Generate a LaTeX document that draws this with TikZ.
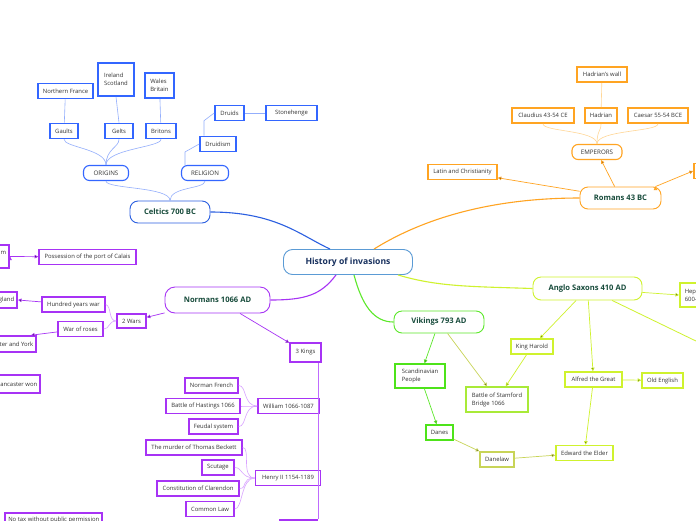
\documentclass[tikz,border=0pt]{standalone}
\usepackage{fontspec}
\setmainfont{Open Sans}
\usetikzlibrary{arrows.meta}

\definecolor{hubline}{HTML}{5B9BD5}
\definecolor{hubtext}{HTML}{17305E}
\definecolor{topictext}{HTML}{174B3B}
\definecolor{leaftext}{HTML}{333333}
\definecolor{celtblue}{HTML}{2B5FE0}
\definecolor{celtbox}{HTML}{3366FF}
\definecolor{celtlite}{HTML}{93AEFC}
\definecolor{romorange}{HTML}{FFA422}
\definecolor{romlite}{HTML}{FFD797}
\definecolor{normpurple}{HTML}{A733F5}
\definecolor{normmid}{HTML}{BF6BFF}
\definecolor{normlite}{HTML}{D9A3FF}
\definecolor{vikgreen}{HTML}{5CE82A}
\definecolor{vikbox}{HTML}{4EE31A}
\definecolor{anglime}{HTML}{CFF22E}
\definecolor{angolive}{HTML}{C8D458}
\definecolor{angbattle}{HTML}{A9EA38}

\tikzset{
	hub/.style={draw=hubline, line width=0.9pt, rounded corners=9pt, fill=white, text=hubtext, font=\bfseries\fontsize{8.6}{10}\selectfont},
	topic/.style={draw=#1, line width=0.9pt, rounded corners=8pt, fill=white, text=topictext, minimum height=22pt, font=\bfseries\fontsize{7.6}{9}\selectfont},
	pill/.style={draw=#1, line width=1.1pt, rounded corners=6pt, fill=white, text=leaftext, minimum height=15pt, inner xsep=2pt, font=\fontsize{6.2}{7}\selectfont},
	leaf/.style={draw=#1, line width=1.6pt, fill=white, text=leaftext, minimum height=15pt, inner xsep=3pt, inner ysep=2pt, align=left, font=\fontsize{5.9}{8}\selectfont},
	branch/.style={draw=#1, line width=1.1pt},
	twig/.style={draw=#1, line width=0.6pt},
	arr/.style={draw=#1, line width=0.7pt, -{Triangle[length=3.5pt,width=3.5pt]}},
}

\begin{document}
\begin{tikzpicture}[x=1pt, y=-1pt]
	\useasboundingbox (0,0) rectangle (696,520);
	\clip (0,0) rectangle (696,520);
	\fill[white] (0,0) rectangle (696,520);

	\node[hub, minimum width=129pt, minimum height=25pt] (hist) at (348,262) {History of invasions};

	\node[topic=celtblue, minimum width=80pt] (celt) at (170,212) {Celtics 700 BC};
	\node[pill=celtbox, minimum width=45pt] (orig) at (106,173) {ORIGINS};
	\node[pill=celtbox, minimum width=47pt] (relig) at (205,173) {RELIGION};
	\node[leaf=celtbox, minimum width=28pt] (gaul) at (64,131) {Gaults};
	\node[leaf=celtbox, minimum width=28pt] (gelt) at (119,131) {Gelts};
	\node[leaf=celtbox, minimum width=30pt] (brit) at (161,131) {Britons};
	\node[leaf=celtbox, minimum width=55pt] (nfr) at (65.5,91) {Northern France};
	\node[leaf=celtbox, minimum width=36pt, minimum height=33pt] (irl) at (116,79.5) {Ireland\\Scotland};
	\node[leaf=celtbox, minimum width=29pt, minimum height=25pt] (wal) at (159.5,85.5) {Wales\\Britain};
	\node[leaf=celtbox, minimum width=29pt] (druids) at (229.5,113) {Druids};
	\node[leaf=celtbox, minimum width=51pt] (stone) at (291.5,113) {Stonehenge};
	\node[leaf=celtbox, minimum width=36pt] (druidism) at (218,144) {Druidism};

	\node[topic=romorange, minimum width=81pt] (rom) at (620.5,198) {Romans 43 BC};
	\node[pill=romorange, minimum width=50pt] (emp) at (597,152) {EMPERORS};
	\node[leaf=romorange, minimum width=62pt] (claud) at (543,115.5) {Claudius 43-54 CE};
	\node[leaf=romorange, minimum width=32pt] (hadr) at (601,115.5) {Hadrian};
	\node[leaf=romorange, minimum width=60pt] (caes) at (658,115.5) {Caesar 55-54 BCE};
	\node[leaf=romorange, minimum width=50pt] (hwall) at (602,74.5) {Hadrian's wall};
	\node[leaf=romorange, minimum width=69pt] (latin) at (462.5,172) {Latin and Christianity};
	\node[leaf=romorange, minimum width=40pt, anchor=west] (redge) at (693,171) {};

	\node[topic=normpurple, minimum width=105pt, minimum height=26pt, rounded corners=10pt] (norm) at (217.5,300) {Normans 1066 AD};
	\node[leaf=normpurple, minimum width=29pt, minimum height=14pt] (wars) at (131.5,321) {2 Wars};
	\node[leaf=normpurple, minimum width=63pt] (hyw) at (73.5,304.5) {Hundred years war};
	\node[leaf=normpurple, minimum width=45pt] (wor) at (80.5,329) {War of roses};
	\node[leaf=normpurple, minimum width=97pt] (calais) at (87.5,257) {Possession of the port of Calais};
	\node[leaf=normpurple, anchor=east, minimum height=23pt] (realm) at (10,256.5) {English realm\\in France};
	\node[leaf=normpurple, anchor=east, minimum height=16pt] (land) at (18,300) {France beat England};
	\node[leaf=normpurple, anchor=east, minimum height=16pt] (york) at (37,344) {Lancaster and York};
	\node[leaf=normpurple, anchor=east, minimum height=18pt] (lanc) at (41,384) {Lancaster won};
	\node[leaf=normpurple, anchor=north east] (notax) at (103,512) {No tax without public permission};
	\node[leaf=normpurple, minimum width=31pt, minimum height=19pt] (kings) at (305.5,352.5) {3 Kings};
	\node[leaf=normpurple, minimum width=61pt] (wil) at (288.5,406) {William 1066-1087};
	\node[leaf=normpurple, minimum width=53pt] (nfrench) at (211.5,385.5) {Norman French};
	\node[leaf=normpurple, minimum width=74pt] (hast) at (203,406) {Battle of Hastings 1066};
	\node[leaf=normpurple, minimum width=49pt] (feud) at (213.5,426.5) {Feudal system};
	\node[leaf=normpurple, minimum width=65pt] (henry) at (288,478) {Henry II 1154-1189};
	\node[leaf=normpurple, minimum width=96pt] (beck) at (194,447.5) {The murder of Thomas Beckett};
	\node[leaf=normpurple, minimum width=32pt] (scut) at (218,467.5) {Scutage};
	\node[leaf=normpurple, minimum width=82pt] (clar) at (198,488.5) {Constitution of Clarendon};
	\node[leaf=normpurple, minimum width=48pt] (comlaw) at (210,509) {Common Law};
	\node[leaf=normpurple, minimum width=37pt, anchor=north] (john) at (298.5,519) {};

	\node[topic=vikgreen, minimum width=90pt] (vik) at (439,322) {Vikings 793 AD};
	\node[leaf=vikbox, minimum width=50pt, minimum height=24pt] (scand) at (420,376) {Scandinavian\\People};
	\node[leaf=angbattle, minimum width=62pt, minimum height=25pt] (stam) at (497,399.5) {Battle of Stamford\\Bridge 1066};
	\node[leaf=vikbox, minimum width=27pt] (danes) at (439.5,432.5) {Danes};
	\node[leaf=angolive, minimum width=34pt] (dlaw) at (497,459.5) {Danelaw};
	\node[topic=anglime, minimum width=109pt, minimum height=23pt] (ang) at (587.5,288.5) {Anglo Saxons 410 AD};
	\node[leaf=anglime, minimum width=42pt] (harold) at (532,346.5) {King Harold};
	\node[leaf=anglime, minimum width=57pt] (alfred) at (593.5,379.5) {Alfred the Great};
	\node[leaf=anglime, minimum width=41pt] (olde) at (662.5,380.5) {Old English};
	\node[leaf=anglime, minimum width=57pt] (edw) at (584.5,453) {Edward the Elder};
	\node[leaf=anglime, anchor=west, minimum height=24pt, inner xsep=5pt] (hept) at (679,295) {Heptarchy\\600-850};
	\coordinate (angout) at (760,372);

	\draw[branch=celtblue] (celt.east) .. controls +(65,0) and +(-30,-14) .. ([xshift=-18pt]hist.north);
	\draw[branch=romorange] (rom.west) .. controls +(-100,0) and +(40,-25) .. ([xshift=26pt]hist.north);
	\draw[branch=normpurple] ([xshift=-12pt]hist.south) .. controls +(-15,20) and +(35,0) .. (norm.east);
	\draw[branch=vikgreen] ([xshift=6pt]hist.south) .. controls +(8,30) and +(-20,0) .. (vik.west);
	\draw[branch=anglime] ([xshift=50pt]hist.south) .. controls +(40,12) and +(-60,-2) .. (ang.west);

	\draw[twig=celtlite] (celt.north) .. controls +(0,-14) and +(0,8) .. (orig.south);
	\draw[twig=celtlite] (celt.north) .. controls +(0,-14) and +(0,8) .. (relig.south);
	\draw[twig=celtlite] (orig.north) .. controls +(0,-16) and +(0,8) .. (gaul.south);
	\draw[twig=celtlite] (orig.north) .. controls +(0,-16) and +(0,8) .. (gelt.south);
	\draw[twig=celtlite] (orig.north) .. controls +(0,-16) and +(0,8) .. (brit.south);
	\draw[twig=celtlite] (gaul) -- (nfr);
	\draw[twig=celtlite] (gelt.north) -- (irl.south);
	\draw[twig=celtlite] (brit) -- (wal);
	\draw[twig=celtlite] ([xshift=-20pt]relig.north) -- ++(0,-13) -- (druidism.west);
	\draw[twig=celtlite] ([xshift=-14pt]druidism.north) -- ++(0,-15) -- (druids.west);
	\draw[twig=celtlite] (druids) -- (stone);

	\draw[twig=romlite] (emp.north) .. controls +(0,-14) and +(0,8) .. (claud.south);
	\draw[twig=romlite] (emp.north) .. controls +(0,-14) and +(0,8) .. (hadr.south);
	\draw[twig=romlite] (emp.north) .. controls +(0,-14) and +(0,8) .. (caes.south);
	\draw[twig=romlite] (hadr) -- (hwall);
	\path[arr=romorange] (rom) edge (emp);
	\path[arr=romorange] (rom) edge (latin);
	\path[arr=romorange] ([xshift=-6pt]rom.north east) edge (redge.west);

	\path[arr=normpurple] (norm) edge (wars);
	\path[arr=normpurple] (norm) edge (kings);
	\draw[twig=normlite] (wars.west) .. controls +(-8,0) and +(6,2) .. (hyw.east);
	\draw[twig=normlite] (wars.west) .. controls +(-8,0) and +(6,0) .. (wor.east);
	\path[arr=normpurple] (hyw) edge (land.east);
	\path[arr=normpurple] (wor) edge ([xshift=-6pt]york.north east);
	\path[arr=normpurple] (realm.east) edge (calais);
	\draw[twig=normmid] ([xshift=-4pt]kings.south east) -- ([xshift=-4pt]kings.south east |- john.north);
	\draw[twig=normlite] (wil.west) .. controls +(-14,0) and +(8,0) .. (nfrench.east);
	\draw[twig=normlite] (wil.west) .. controls +(-14,0) and +(8,0) .. (hast.east);
	\draw[twig=normlite] (wil.west) .. controls +(-14,0) and +(8,0) .. (feud.east);
	\draw[twig=normlite] (henry.west) .. controls +(-14,0) and +(8,0) .. (beck.east);
	\draw[twig=normlite] (henry.west) .. controls +(-14,0) and +(8,0) .. (scut.east);
	\draw[twig=normlite] (henry.west) .. controls +(-14,0) and +(8,0) .. (clar.east);
	\draw[twig=normlite] (henry.west) .. controls +(-14,0) and +(8,0) .. (comlaw.east);

	\path[arr=vikgreen] (vik) edge (scand);
	\path[arr=angolive] (vik) edge (stam);
	\path[arr=vikgreen] (scand) edge (danes);
	\path[arr=angolive] (danes) edge (dlaw);
	\path[arr=angolive] (dlaw) edge (edw);
	\path[arr=anglime] (ang) edge (harold);
	\path[arr=anglime] (harold) edge (stam);
	\path[arr=anglime] (ang) edge (alfred);
	\path[arr=anglime] (alfred) edge (olde);
	\path[arr=anglime] (alfred) edge (edw);
	\path[arr=anglime] (ang) edge (hept.west);
	\draw[twig=anglime, line width=0.8pt] (ang) -- (angout);
\end{tikzpicture}
\end{document}
